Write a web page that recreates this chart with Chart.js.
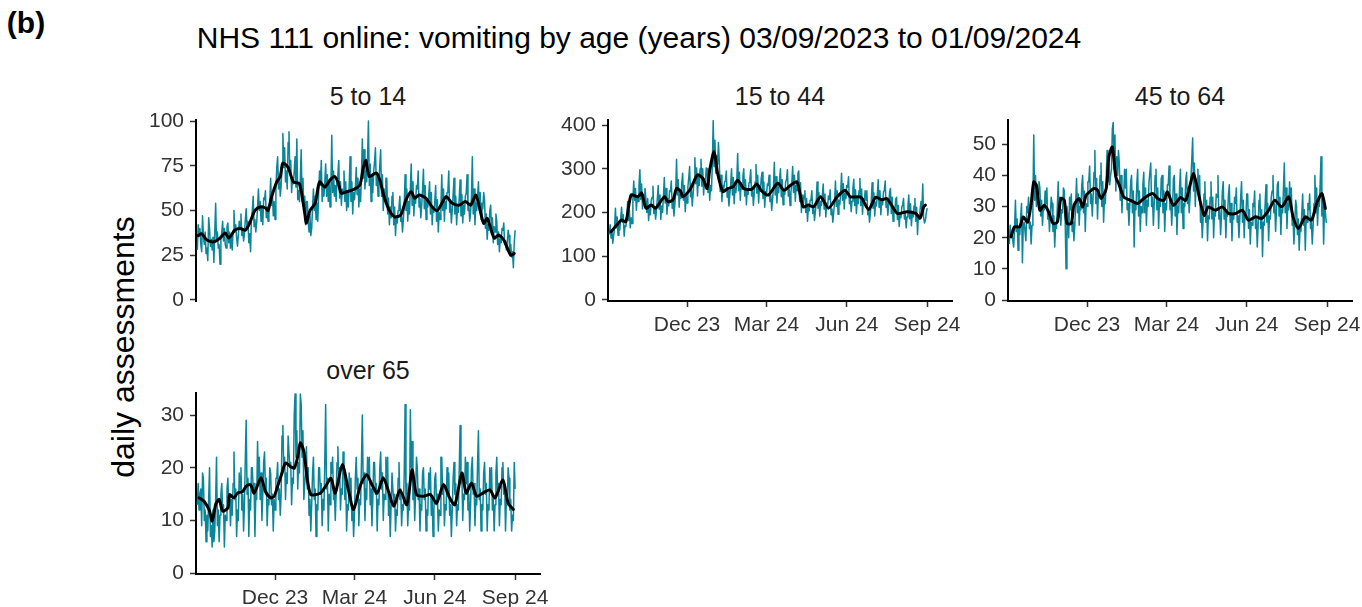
<!DOCTYPE html>
<html><head><meta charset="utf-8">
<script src="https://cdn.jsdelivr.net/npm/chart.js@4.4.0/dist/chart.umd.min.js"></script>
<style>
body{margin:0;background:#fff;width:1362px;height:607px;position:relative;overflow:hidden;font-family:"Liberation Sans",Arial,sans-serif;}
.t{position:absolute;color:#1a1a1a;white-space:nowrap;line-height:1;transform:translate(-50%,-50%);}
canvas{position:absolute;}
</style></head><body>
<div class="t" style="left:26px;top:23px;font-weight:bold;font-size:30px;color:#000;">(b)</div>
<div class="t" style="left:639px;top:38px;font-size:30px;color:#000;">NHS 111 online: vomiting by age (years) 03/09/2023 to 01/09/2024</div>
<div class="t" style="left:123px;top:347px;font-size:32px;color:#000;transform:translate(-50%,-50%) rotate(-90deg);">daily assessments</div>
<div class="t" style="left:368px;top:96px;font-size:25px;">5 to 14</div>
<div class="t" style="left:780px;top:96px;font-size:25px;">15 to 44</div>
<div class="t" style="left:1180px;top:96px;font-size:25px;">45 to 64</div>
<div class="t" style="left:368px;top:370px;font-size:25px;">over 65</div>
<script>
// x axis: day index from 03/09/2023 (day 0) to 01/09/2024 (day 364)
const tickDays = [89, 180, 272, 364];
const tickLabels = ["Dec 23", "Mar 24", "Jun 24", "Sep 24"];

// ---- 5 to 14 ----
const daily5to14 = [
28,42,36,40,31,27,47, 36,31,38,26,29,22,46, 40,30,34,28,35,21,38, 54,33,38,29,31,20,34,
38,44,33,40,31,29,41, 43,32,38,29,36,28,39, 50,38,42,35,30,36,44, 41,48,36,40,33,37,45,
51,40,44,32,37,27,46, 50,58,41,45,38,43,52, 62,50,55,44,52,42,57, 56,61,46,52,44,48,55,
68,53,60,47,55,45,62, 74,80,62,70,58,64,74, 93,74,85,66,72,62,88, 94,70,78,60,68,65,72,
80,63,90,56,61,55,68, 84,55,68,50,58,42,55, 55,44,38,48,36,40,52, 62,50,58,45,54,44,60,
72,64,78,55,63,58,66, 76,58,70,55,66,52,62, 92,60,72,58,64,55,68, 70,78,57,66,53,62,60,
72,55,66,50,60,52,65, 80,55,66,48,60,56,62, 74,59,68,52,62,55,70, 90,68,84,62,72,66,80,
100,64,76,55,70,60,72, 77,85,64,70,58,66,75, 84,58,70,50,62,56,68, 68,48,57,42,52,46,58,
60,42,52,36,46,43,50, 52,58,44,47,38,45,53, 70,50,62,44,55,48,62, 76,53,66,47,58,54,64,
62,72,52,57,46,53,62, 73,51,64,45,56,52,58, 66,48,60,42,52,49,55, 64,44,56,38,49,45,52,
70,50,62,44,55,51,60, 61,72,49,54,43,50,59, 68,48,58,42,52,49,57, 67,47,59,43,53,48,58,
60,70,50,53,44,49,58, 80,48,62,42,54,50,58, 66,50,60,45,54,51,60, 56,40,48,34,42,39,50,
53,37,46,32,41,38,48, 44,31,38,27,34,32,40, 39,43,31,33,28,32,39, 36,25,31,24,27,18,32,
39];
const avgDays5to14 = [1,5,11,19,26,32,36,43,49,55,60,66,72,78,81,85,91,95,98,104,110,117,123,125,129,135,140,146,152,157,161,165,171,178,186,190,193,197,205,209,214,220,226,233,239,245,249,254,262,269,275,285,292,300,307,313,319,323,328,332,340,345,351,359,363];
const avg5to14 = [36,37,33.5,32.5,34.6,37.4,34.6,39,40,39,43,50,52,51.4,50,57.5,66,69,76.5,74,66,65,48.6,43,50,54,66,63,67,69,66,59.6,60.5,61.5,64,73.6,78,69,71,67,57.7,50,46.5,47.5,56,60.5,56.8,58.7,56.8,52,50,57.7,54,53,55,53,58.7,52,42.8,45.6,34.5,36.3,33.5,25,26];
const yTicks5to14 = [0, 25, 50, 75, 100];

// ---- 15 to 44 ----
const daily15to44 = [
150,172,142,160,130,148,165, 210,165,190,148,172,160,185, 212,178,195,146,170,168,190, 225,182,205,165,188,175,230,
272,228,255,205,238,225,262, 298,230,265,208,240,222,255, 255,200,232,182,210,195,228, 235,260,198,212,185,205,232,
262,208,240,184,215,200,238, 280,222,255,196,232,215,250, 248,272,210,226,192,216,244, 322,240,275,212,250,232,268,
290,228,262,202,238,222,258, 280,305,236,255,215,242,275, 325,266,302,238,280,262,300, 322,260,300,240,278,265,302,
300,246,285,228,262,250,310, 410,305,365,290,330,310,360, 315,248,285,225,262,250,270, 272,295,235,250,215,240,265,
300,240,280,220,258,246,272, 335,250,292,228,268,254,282, 300,238,275,218,252,242,268, 276,298,238,254,216,244,270,
310,244,285,222,262,250,278, 292,232,270,212,248,238,265, 262,285,225,240,205,230,258, 315,240,282,222,258,246,276,
300,236,275,218,252,242,270, 276,298,238,254,216,244,268, 305,246,285,226,262,250,290, 295,225,268,200,240,222,240,
250,200,232,180,212,204,228, 230,250,198,210,182,202,226, 270,210,246,192,226,216,240, 265,208,242,190,222,212,238,
230,252,195,208,178,200,224, 272,214,250,196,228,218,245, 290,228,266,208,244,232,262, 258,282,220,236,202,226,255,
276,216,252,198,232,220,250, 278,216,254,196,232,222,250, 228,250,195,208,178,198,225, 268,210,245,192,224,215,242,
275,212,250,195,228,218,248, 250,272,212,228,194,218,246, 255,198,235,180,212,202,230, 235,184,216,168,196,188,212,
218,232,185,198,165,190,214, 240,186,220,170,200,190,215, 232,180,212,150,194,185,208, 225,205,265,188,176,182,198,
210];
const avgDays15to44 = [2,10,14,19,25,33,37,42,48,53,63,67,73,77,82,84,92,96,101,107,112,115,120,124,130,136,142,147,154,163,169,174,182,193,200,208,215,222,228,234,242,251,261,270,276,288,297,305,312,318,330,341,351,356,360,362];
const avg15to44 = [156,175,183,179,240,236,245,210,217,210,236,225,229,255,248,236,251,267,286,278,255,297,339,290,248,255,259,274,255,253,265,250,240,267,251,263,270,213,217,213,236,210,236,251,236,235,207,235,229,232,198,202,198,187,213,217];
const yTicks15to44 = [0, 100, 200, 300, 400];

// ---- 45 to 64 ----
const daily45to64 = [
18,24,20,22,19,17,23, 32,22,26,16,23,21,27, 31,12,24,25,22,19,30, 28,33,23,25,18,24,30,
53,32,40,30,36,34,38, 36,27,32,24,30,29,35, 31,36,26,28,22,28,33, 31,22,27,17,24,23,30,
38,27,33,24,29,28,36, 35,25,10,30,27,20,33, 29,34,22,25,19,24,31, 39,28,34,24,30,29,37,
40,28,35,22,31,30,38, 38,43,31,34,27,33,41, 48,31,39,26,34,33,40, 44,30,38,25,33,31,39,
48,38,44,37,40,42,55, 57,42,53,35,46,40,48, 44,32,40,28,35,33,42, 36,42,29,31,24,30,38,
40,28,35,17,31,29,37, 42,27,35,22,30,28,37, 41,28,36,24,32,30,38, 38,44,30,33,24,31,40,
42,29,36,23,32,30,39, 40,28,35,22,31,29,37, 37,43,29,32,24,30,39, 40,27,34,21,30,28,36,
42,28,36,23,31,30,38, 41,31,36,28,33,33,45, 52,35,44,30,38,36,42, 33,40,25,28,20,26,34,
38,25,32,19,27,26,33, 38,26,33,20,28,27,34, 33,40,26,29,21,27,35, 38,26,32,20,28,27,34,
37,25,31,19,27,26,33, 31,36,25,27,20,26,33, 38,25,32,20,28,27,34, 34,23,29,18,25,24,31,
30,35,23,26,17,24,32, 34,23,29,14,25,24,31, 37,25,31,19,27,26,33, 35,40,28,31,22,29,37,
38,27,33,21,29,28,36, 44,28,36,23,31,29,38, 30,36,24,26,18,25,32, 30,21,26,16,23,22,28,
34,24,29,16,26,25,31, 29,34,23,25,18,24,31, 40,28,36,24,31,30,37, 46,27,34,18,30,28,25,
25];
const avgDays45to64 = [2,6,12,16,21,25,28,31,35,40,45,50,55,59,63,66,71,74,80,84,88,92,97,101,105,111,114,118,122,126,131,139,147,154,164,170,177,181,188,196,202,207,211,215,223,228,236,244,251,259,267,274,282,289,297,304,312,320,325,331,339,346,352,358,362];
const avg45to64 = [20.3,23.5,23.5,26.7,25,31,37.9,36.9,28.8,30.4,28.3,24.6,25,32.6,32,24.6,24.6,30.4,32.6,29.9,33.7,34.7,35.8,35.3,32.6,35.8,45.9,49.1,39.5,36.9,33.1,32,31,32.6,34.2,32.6,32,34.7,30.4,32.9,32,36.9,40.6,36.3,27.2,29.9,28.8,29.9,27.8,27.8,28.8,25.6,26.7,26.2,28.8,32,29.9,33.1,26.7,23,26.7,25.6,31,34.2,29.4];
const yTicks45to64 = [0, 10, 20, 30, 40, 50];

// ---- over 65 ----
const dailyOver65 = [
13,17,12,15,16,9,19, 18,10,12,6,11,8,14, 20,7,9,5,12,6,8, 14,22,9,12,6,11,15,
17,12,13,5,11,10,16, 18,13,15,9,14,11,17, 23,14,16,7,12,10,19, 16,20,12,15,8,13,22,
29,15,18,7,14,12,20, 20,16,17,7,15,14,25, 17,22,14,19,10,15,21, 23,16,18,9,14,13,20,
19,13,15,8,14,12,18, 18,21,14,16,11,15,26, 28,20,22,14,19,17,26, 26,20,21,13,18,17,30,
34,22,27,16,21,19,34, 32,22,27,14,17,19,24, 16,20,11,14,8,13,19, 22,14,16,7,13,12,20,
20,15,17,9,14,12,21, 32,16,18,8,15,13,21, 19,22,14,16,10,15,21, 24,17,20,12,16,15,23,
20,14,17,8,13,12,19, 15,18,10,13,7,11,18, 22,16,18,9,14,13,21, 30,17,19,10,16,14,22,
18,22,13,16,9,14,21, 21,15,17,8,14,13,20, 23,16,19,10,15,14,22, 16,22,11,14,7,13,19,
19,13,15,8,12,11,18, 21,14,16,9,13,12,19, 32,14,17,9,13,12,31, 20,25,14,17,10,15,22,
20,14,16,8,13,12,19, 20,14,16,8,12,11,19, 16,20,11,14,7,12,18, 19,13,15,8,12,11,22,
22,15,17,9,13,12,20, 15,19,11,13,7,12,18, 21,15,17,9,13,12,20, 28,17,19,10,15,14,22,
17,21,12,15,8,13,20, 22,15,17,9,14,13,21, 27,14,16,8,13,12,19, 21,15,17,8,13,12,20,
16,20,12,14,8,13,19, 22,15,17,9,14,13,20, 21,15,17,8,14,13,20, 18,12,14,8,11,10,21,
16];
const avgDaysOver65 = [2,8,14,17,21,25,29,35,37,42,46,52,56,61,65,73,78,84,88,92,97,101,107,111,115,118,122,126,130,135,141,147,153,158,166,173,179,187,194,200,206,213,219,225,232,240,246,251,259,267,274,282,289,295,303,308,314,320,327,335,341,350,356,362];
const avgOver65 = [14.3,13.6,11.8,9.9,13,14,11.8,12.4,14.9,14.3,15.2,15.5,16.5,16.8,15.2,18.1,15.5,14.3,14.6,16.5,19,20.9,20.2,19.9,22.1,24.7,23.1,17.7,14.9,14.9,15.2,16.5,18,15.2,20.6,15.8,12.1,16.8,18.7,16.8,15.2,18.1,15.5,12.7,15.8,13,19.6,14.9,14.6,14.9,13.3,16.8,14.3,13,19,15.2,17.1,14.6,15.2,15.8,14.3,17.7,13.3,12.1];
const yTicksOver65 = [0, 10, 20, 30];

const TEAL = '#0a8599';
const FONT = {family: '"Liberation Sans", Arial, sans-serif', size: 21};

function makePanel(p) {
  const W = 344, AXW = 90, PADT = 30, PADR = 24, AXH = 50, PADB = 30;
  const c = document.createElement('canvas');
  const h = Math.round(PADT + (p.B - p.T) + (p.showX ? AXH : PADB));
  const w = AXW + W + PADR;
  c.width = w; c.height = h;
  c.style.left = (p.L - AXW) + 'px';
  c.style.top = (p.T - PADT) + 'px';
  c.style.width = w + 'px'; c.style.height = h + 'px';
  document.body.appendChild(c);
  new Chart(c, {
    type: 'line',
    data: {
      datasets: [
        {data: p.avgDays.map((d, i) => ({x: d, y: p.avg[i]})), borderColor: '#000', borderWidth: 3,
         pointRadius: 0, tension: 0.25, order: 0, borderJoinStyle: 'round', borderCapStyle: 'round'},
        {data: p.daily.map((v, i) => ({x: i, y: v})), borderColor: TEAL, borderWidth: 1.5,
         pointRadius: 0, tension: 0, order: 1, borderJoinStyle: 'round'}
      ]
    },
    options: {
      responsive: false, animation: false, devicePixelRatio: 1,
      layout: {padding: {top: PADT, right: PADR, left: 0, bottom: p.showX ? 0 : PADB}},
      plugins: {legend: {display: false}, tooltip: {enabled: false}},
      scales: {
        x: {
          type: 'linear', min: -1.5, max: 392.5, display: p.showX,
          afterFit: s => { if (p.showX) s.height = AXH; },
          afterBuildTicks: s => { s.ticks = tickDays.map(v => ({value: v})); },
          ticks: {autoSkip: false, maxRotation: 0, padding: 6, color: '#333', font: FONT,
                  callback: (v, i) => tickLabels[i]},
          grid: {display: true, drawOnChartArea: false, drawTicks: true, tickLength: 6, tickWidth: 1.5, tickColor: '#333'},
          border: {display: true, color: '#000', width: 2}
        },
        y: {
          min: p.yMin, max: p.yMax,
          afterFit: s => { s.width = AXW; },
          afterBuildTicks: s => { s.ticks = p.yTicks.map(v => ({value: v})); },
          ticks: {padding: 6, color: '#333', font: FONT},
          grid: {display: true, drawOnChartArea: false, drawTicks: true, tickLength: 6, tickWidth: 1.5, tickColor: '#333'},
          border: {display: true, color: '#000', width: 2}
        }
      }
    }
  });
}

makePanel({L: 196, T: 120, B: 300.5, showX: false, daily: daily5to14, avgDays: avgDays5to14, avg: avg5to14, yTicks: yTicks5to14, yMin: -0.56, yMax: 100.56});
makePanel({L: 608, T: 120, B: 300.5, showX: true, daily: daily15to44, avgDays: avgDays15to44, avg: avg15to44, yTicks: yTicks15to44, yMin: -2.3, yMax: 411.5});
makePanel({L: 1008, T: 120, B: 300.5, showX: true, daily: daily45to64, avgDays: avgDays45to64, avg: avg45to64, yTicks: yTicks45to64, yMin: -0.32, yMax: 57.8});
makePanel({L: 196, T: 393, B: 574, showX: true, daily: dailyOver65, avgDays: avgDaysOver65, avg: avgOver65, yTicks: yTicksOver65, yMin: -0.13, yMax: 34.17});
</script>
</body></html>
